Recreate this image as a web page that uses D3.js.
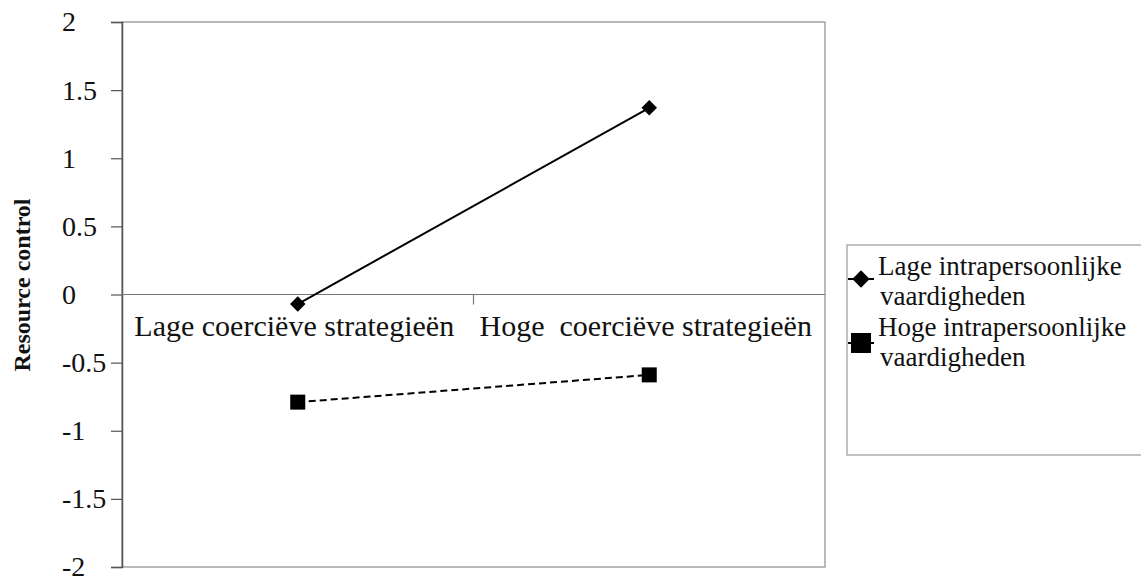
<!DOCTYPE html>
<html>
<head>
<meta charset="utf-8">
<script src="https://cdn.jsdelivr.net/npm/d3@7"></script>
<style>
  html, body { margin: 0; padding: 0; background: #fff; }
  svg { display: block; }
  svg text { font-family: "Liberation Serif", "DejaVu Serif", serif !important; fill: #111; }
</style>
</head>
<body>
<svg id="chart" width="1141" height="577"></svg>
<script>
// ---- data ----
const categories = ["Lage coerciëve strategieën", "Hoge\u00a0 coerciëve strategieën"];
const seriesNames = ["Lage intrapersoonlijke vaardigheden", "Hoge intrapersoonlijke vaardigheden"];
const lageValues = [-0.07, 1.37];
const hogeValues = [-0.79, -0.59];
const yTicks = [-2, -1.5, -1, -0.5, 0, 0.5, 1, 1.5, 2];
const yTitle = "Resource control";

// ---- layout ----
const svg = d3.select("#chart");
const L = 122, R = 825, T = 22, B = 567;
const SERIF = "'Liberation Serif', 'DejaVu Serif', serif";

const x = d3.scaleBand().domain(categories).range([L, R]);
const y = d3.scaleLinear().domain([-2, 2]).range([B, T]);

// plot frame
svg.append("rect")
  .attr("x", L).attr("y", T).attr("width", R - L).attr("height", B - T)
  .attr("fill", "none").attr("stroke", "#8c8c8c").attr("stroke-width", 1.2);

// y axis
const yAxis = d3.axisLeft(y).tickValues(yTicks).tickSize(11).tickPadding(13)
  .tickFormat(d => String(d));
const gy = svg.append("g").attr("transform", `translate(${L},0)`).call(yAxis);
gy.attr("font-family", SERIF);
gy.select(".domain").attr("stroke", "#555").attr("stroke-width", 1.5);
gy.selectAll(".tick line").attr("stroke", "#555").attr("stroke-width", 1.2);
gy.selectAll(".tick text")
  .style("font-family", SERIF).attr("font-size", 28).attr("fill", "#111")
  .attr("text-anchor", "start").attr("x", 62 - L);

// category axis at y=0
const gx = svg.append("g").attr("transform", `translate(0,${y(0)})`);
gx.append("line").attr("x1", L).attr("x2", R).attr("y1", 0).attr("y2", 0)
  .attr("stroke", "#777").attr("stroke-width", 1.2);
const bounds = [L, ...categories.map(c => x(c) + x.bandwidth())];
gx.selectAll("line.tk").data(bounds.slice(1, -1)).enter().append("line")
  .attr("class", "tk").attr("x1", d => d).attr("x2", d => d).attr("y1", 0).attr("y2", 10)
  .attr("stroke", "#777").attr("stroke-width", 1.2);
gx.selectAll("text").data(categories).enter().append("text")
  .attr("x", d => x(d) + x.bandwidth() / 2 - 3.5)
  .attr("y", 41)
  .attr("text-anchor", "middle")
  .style("font-family", SERIF)
  .attr("font-size", 30)
  .text(d => d);

// y title
svg.append("text")
  .attr("transform", `translate(30,285) rotate(-90)`)
  .attr("text-anchor", "middle")
  .style("font-family", SERIF)
  .attr("font-size", 24).attr("font-weight", "bold")
  .text(yTitle);

// lines
const cx = d => x(d) + x.bandwidth() / 2;
const line = d3.line().x(d => cx(d.c)).y(d => y(d.v));
const lageData = categories.map((c, i) => ({ c, v: lageValues[i] }));
const hogeData = categories.map((c, i) => ({ c, v: hogeValues[i] }));

svg.append("path").datum(lageData).attr("d", line)
  .attr("fill", "none").attr("stroke", "#000").attr("stroke-width", 2);
svg.append("path").datum(hogeData).attr("d", line)
  .attr("fill", "none").attr("stroke", "#000").attr("stroke-width", 2)
  .attr("stroke-dasharray", "7,4");

const diamond = d3.symbol().type(d3.symbolSquare).size(120);
svg.selectAll("path.dia").data(lageData).enter().append("path")
  .attr("class", "dia").attr("d", diamond)
  .attr("transform", d => `translate(${cx(d.c)},${y(d.v)}) rotate(45)`)
  .attr("fill", "#000");
svg.selectAll("rect.sq").data(hogeData).enter().append("rect")
  .attr("class", "sq")
  .attr("x", d => cx(d.c) - 7.5).attr("y", d => y(d.v) - 7.5)
  .attr("width", 15).attr("height", 15).attr("fill", "#000");

// legend
const lg = svg.append("g");
lg.append("rect").attr("x", 847).attr("y", 245).attr("width", 320).attr("height", 210)
  .attr("fill", "#fff").attr("stroke", "#999").attr("stroke-width", 1.2);
const legendItems = [
  { name: seriesNames[0], yMark: 279, lines: ["Lage intrapersoonlijke", "vaardigheden"], base: 275, type: "diamond" },
  { name: seriesNames[1], yMark: 343, lines: ["Hoge intrapersoonlijke", "vaardigheden"], base: 336, type: "square" }
];
const legDiamond = d3.symbol().type(d3.symbolSquare).size(150);
legendItems.forEach(it => {
  lg.append("line").attr("x1", 848).attr("x2", 874).attr("y1", it.yMark).attr("y2", it.yMark)
    .attr("stroke", "#000").attr("stroke-width", 2);
  if (it.type === "diamond") {
    lg.append("path").attr("d", legDiamond)
      .attr("transform", `translate(861,${it.yMark}) rotate(45)`).attr("fill", "#000");
  } else {
    lg.append("rect").attr("x", 851).attr("y", it.yMark - 10).attr("width", 20).attr("height", 20)
      .attr("fill", "#000");
  }
  const t = lg.append("text").attr("x", 878).attr("y", it.base)
    .style("font-family", SERIF).attr("font-size", 27);
  t.append("tspan").attr("x", 878).attr("dy", 0).text(it.lines[0]);
  t.append("tspan").attr("x", 880).attr("dy", 30).text(it.lines[1]);
});
</script>
</body>
</html>
